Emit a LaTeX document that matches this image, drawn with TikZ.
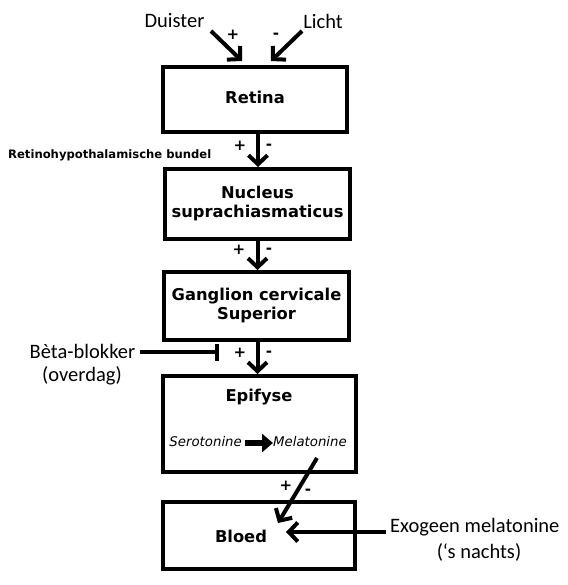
\documentclass[tikz,border=0pt]{standalone}
\usepackage{fontspec}
\setmainfont{DejaVu Sans}
\newfontfamily\calfont{Carlito}
\usetikzlibrary{arrows.meta,calc}
\tikzset{
  boxnode/.style={draw, line width=4pt, rectangle, inner sep=0pt, align=center, font=\fontsize{16.3}{19}\selectfont\bfseries},
  boxtext/.style={inner sep=0pt, font=\fontsize{16.3}{19}\selectfont\bfseries},
  arr/.style={line width=4pt, -{Straight Barb[length=9pt,width=19pt,line width=4pt]}},
  sidelabel/.style={font=\fontsize{20.5}{24}\selectfont\calfont, inner sep=0pt, align=center},
  sign/.style={font=\fontsize{15}{16}\selectfont\bfseries, inner sep=0pt},
  plain/.style={inner sep=0pt},
}
\begin{document}
\begin{tikzpicture}[x=1pt,y=-1pt]
\useasboundingbox[fill=white] (0,0) rectangle (567,585);

% boxes
\node[boxnode, minimum width=184pt, minimum height=65pt] (retina) at (255,99.5) {};
\node[boxtext] (retinat) at (255,97) {Retina};
\node[boxnode, minimum width=185pt, minimum height=70pt] (nucleus) at (257.5,204) {Nucleus\\suprachiasmaticus};
\node[boxnode, minimum width=185pt, minimum height=68pt] (ganglion) at (256.5,306) {Ganglion cervicale\\Superior};
\node[boxnode, minimum width=193pt, minimum height=96pt] (epifyse) at (259.5,424) {};
\node[boxnode, minimum width=192pt, minimum height=67pt] (bloed) at (259,535.5) {};

\node[boxtext] (epit) at (259,397) {Epifyse};
\node[boxtext] (bloedt) at (241,536) {Bloed};

% serotonine -> melatonine
\node[plain, font=\fontsize{13.3}{15}\selectfont\itshape, anchor=east] (sero) at (242,442) {Serotonine};
\node[plain, font=\fontsize{13.3}{15}\selectfont\itshape, anchor=west] (mela) at (273,442) {Melatonine};
\draw[line width=5.5pt, -{Triangle[length=11pt,width=18pt]}] (sero.east) ++(3,1) -- ($(mela.west)+(0,1)$);

% top inputs
\node[sidelabel] (duister) at (174.5,21) {Duister};
\node[sidelabel] (licht) at (323,21) {Licht};
\coordinate (dstart) at (211,31);
\coordinate (dend) at (242,61);
\coordinate (lstart) at (302,31);
\coordinate (lend) at (271,61);
\draw[arr] (dstart) -- (dend);
\draw[arr] (lstart) -- (lend);
\node[sign] (p0) at (233,35) {+};
\node[sign] (m0) at (276,36) {-};

% vertical arrows
\draw[arr] ($(retina.south)+(3,0)$) -- ($(nucleus.north)+(0.5,0)$);
\node[sign] (p1) at (240,146) {+};
\node[sign] (m1) at (269,147) {-};
\node[plain, font=\fontsize{11.6}{13}\selectfont\bfseries, anchor=west] (rhb) at (8,155) {Retinohypothalamische bundel};

\draw[arr] ($(nucleus.south)+(0,0)$) -- ($(ganglion.north)+(1,0)$);
\node[sign] (p2) at (239,250) {+};
\node[sign] (m2) at (269,251) {-};

\draw[arr] ($(ganglion.south)+(1,0)$) -- ($(epifyse.north)+(-2,0)$);
\node[sign] (p3) at (240,353) {+};
\node[sign] (m3) at (269,354) {-};

% beta blocker
\node[sidelabel] (beta) at (82.5,351) {Bèta-blokker};
\node[sidelabel] (overdag) at (82,376) {(overdag)};
\coordinate (barend) at (219,352);
\draw[line width=4pt, -{Bar[width=17pt,line width=4pt]}] (beta.east) ++(5,1) -- (barend);

% melatonine -> bloed
\coordinate (mstart) at (317,458);
\coordinate (mend) at (278,523);
\draw[arr] (mstart) -- (mend);
\node[sign] (p4) at (286,486) {+};
\node[sign] (m4) at (308,492) {-};

% exogeen
\node[sidelabel, anchor=west] (exo) at (390,527) {Exogeen melatonine};
\node[sidelabel] (nachts) at (479,552) {(‘s nachts)};
\coordinate (estart) at (386,532);
\coordinate (eend) at (286,532);
\draw[arr] (estart) -- (eend);
\end{tikzpicture}
\end{document}
